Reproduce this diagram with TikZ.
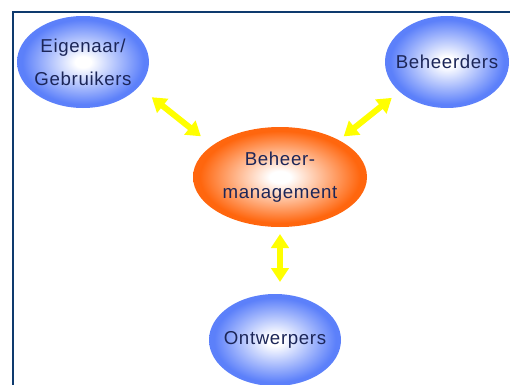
\documentclass[tikz,border=0pt]{standalone}
\usepackage{fontspec}
\setmainfont{Liberation Sans}[LetterSpace=3.5]
\usetikzlibrary{shapes.geometric,arrows.meta,positioning}
\definecolor{ballblue}{RGB}{92,128,250}
\definecolor{ballorange}{RGB}{255,102,14}
\definecolor{textnavy}{RGB}{28,38,88}
\definecolor{framenavy}{RGB}{14,58,110}
\definecolor{arrowyellow}{RGB}{255,255,0}
\pgfdeclareradialshading{blueball}{\pgfpoint{0bp}{0bp}}{color(0bp)=(white); color(3bp)=(white); color(13bp)=(ballblue!50!white); color(23bp)=(ballblue); color(50bp)=(ballblue)}
\pgfdeclareradialshading{orangeball}{\pgfpoint{0bp}{0bp}}{color(0bp)=(white); color(3bp)=(white); color(13bp)=(ballorange!50!white); color(23bp)=(ballorange); color(50bp)=(ballorange)}

\begin{document}
\begin{tikzpicture}[
    x=0.75pt, y=-0.75pt,
    on grid,
    bubble/.style={ellipse, inner sep=-12pt, outer sep=0pt, align=center, text=textnavy, font=\fontsize{14}{25}\selectfont},
    bluebubble/.style={bubble, shading=blueball, minimum height=69pt},
    orangebubble/.style={bubble, shading=orangeball, minimum width=130.5pt, minimum height=75pt},
    arr/.style={{Triangle[length=10.5pt,width=13pt]}-{Triangle[length=10.5pt,width=13pt]}, line width=4.5pt, draw=arrowyellow}
]
\useasboundingbox (0,0) rectangle (510,385);
\draw[framenavy, line width=1.5pt] (13,385) -- (13,12) -- (510,12);
\node[orangebubble] (mgmt) at (280,177) {Beheer-\\management};
\node[bluebubble, minimum width=99pt, above left=86.25pt and 147.75pt of mgmt] (eig) {Eigenaar/\\Gebruikers};
\node[bluebubble, minimum width=93pt, above right=86.25pt and 125.25pt of mgmt] (behe) {Beheerders};
\node[bluebubble, minimum width=99pt, below=122.25pt of mgmt, xshift=-3.75pt] (ontw) {Ontwerpers};
\draw[arr, shorten <=12.6pt, shorten >=11.1pt] (eig.-24.9) -- (mgmt.155.8);
\draw[arr, shorten <=4.6pt, shorten >=7.5pt] (mgmt.32.6) -- (behe.212.4);
\draw[arr, shorten <=5.25pt, shorten >=9pt] (mgmt.south) -- (mgmt.south |- ontw.north);
\end{tikzpicture}
\end{document}
